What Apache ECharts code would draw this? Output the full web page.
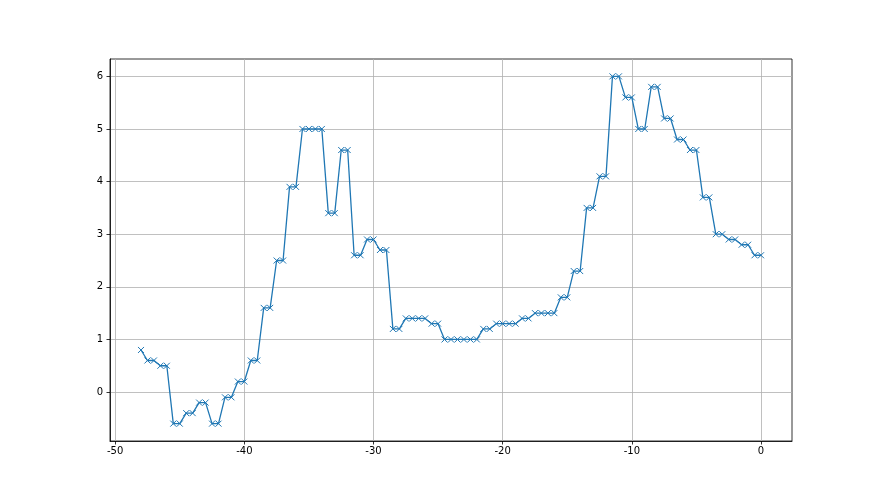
<!DOCTYPE html>
<html>
<head>
<meta charset="utf-8">
<script src="https://cdn.jsdelivr.net/npm/echarts@6/dist/echarts.min.js"></script>
<style>html,body{margin:0;padding:0;background:#fff}#c{width:880px;height:495px}</style>
</head>
<body>
<div id="c"></div>
<script>
var xValues = [-48,
  -47.5,-47, -46.5,-46, -45.5,-45, -44.5,-44, -43.5,-43, -42.5,-42, -41.5,-41, -40.5,-40,
  -39.5,-39, -38.5,-38, -37.5,-37, -36.5,-36, -35.5,-35, -34.5,-34, -33.5,-33, -32.5,-32,
  -31.5,-31, -30.5,-30, -29.5,-29, -28.5,-28, -27.5,-27, -26.5,-26, -25.5,-25, -24.5,-24,
  -23.5,-23, -22.5,-22, -21.5,-21, -20.5,-20, -19.5,-19, -18.5,-18, -17.5,-17, -16.5,-16,
  -15.5,-15, -14.5,-14, -13.5,-13, -12.5,-12, -11.5,-11, -10.5,-10, -9.5,-9, -8.5,-8,
  -7.5,-7, -6.5,-6, -5.5,-5, -4.5,-4, -3.5,-3, -2.5,-2, -1.5,-1, -0.5,0];
var yValues = [0.8,
  0.6,0.6, 0.5,0.5, -0.6,-0.6, -0.4,-0.4, -0.2,-0.2, -0.6,-0.6, -0.1,-0.1, 0.2,0.2,
  0.6,0.6, 1.6,1.6, 2.5,2.5, 3.9,3.9, 5.0,5.0, 5.0,5.0, 3.4,3.4, 4.6,4.6,
  2.6,2.6, 2.9,2.9, 2.7,2.7, 1.2,1.2, 1.4,1.4, 1.4,1.4, 1.3,1.3, 1.0,1.0,
  1.0,1.0, 1.0,1.0, 1.2,1.2, 1.3,1.3, 1.3,1.3, 1.4,1.4, 1.5,1.5, 1.5,1.5,
  1.8,1.8, 2.3,2.3, 3.5,3.5, 4.1,4.1, 6.0,6.0, 5.6,5.6, 5.0,5.0, 5.8,5.8,
  5.2,5.2, 4.8,4.8, 4.6,4.6, 3.7,3.7, 3.0,3.0, 2.9,2.9, 2.8,2.8, 2.6,2.6];
var xTicks = [-50, -40, -30, -20, -10, 0];
var yTicks = [0, 1, 2, 3, 4, 5, 6];

var data = xValues.map(function (x, i) { return [x, yValues[i]]; });
var chart = echarts.init(document.getElementById('c'), null, {renderer: 'canvas'});
var labelStyle = {color: '#000', fontFamily: 'DejaVu Sans', fontSize: 10};
chart.setOption({
  animation: false,
  backgroundColor: '#fff',
  grid: {left: 110, right: 88, top: 59, bottom: 54, show: true, borderColor: '#000', borderWidth: 0.8, backgroundColor: 'transparent'},
  xAxis: {
    type: 'value', min: -50.4, max: 2.4,
    axisLine: {show: true, onZero: false, lineStyle: {color: '#000', width: 0.8}},
    axisTick: {show: true, customValues: xTicks, length: 3.5, lineStyle: {color: '#000', width: 0.8}},
    axisLabel: Object.assign({customValues: xTicks, margin: 5}, labelStyle),
    splitLine: {show: true, customValues: xTicks, lineStyle: {color: '#b0b0b0', width: 0.8}}
  },
  yAxis: {
    type: 'value', min: -0.93, max: 6.33,
    axisLine: {show: true, onZero: false, lineStyle: {color: '#000', width: 0.8}},
    axisTick: {show: true, customValues: yTicks, length: 3.5, lineStyle: {color: '#000', width: 0.8}},
    axisLabel: Object.assign({customValues: yTicks, margin: 7}, labelStyle),
    splitLine: {show: true, customValues: yTicks, lineStyle: {color: '#b0b0b0', width: 0.8}}
  },
  series: [{
    type: 'line',
    data: data,
    lineStyle: {color: '#1f77b4', width: 1.3},
    symbol: 'path://M0,0L10,10M10,0L0,10',
    symbolSize: 6,
    showAllSymbol: true,
    itemStyle: {color: 'none', borderColor: '#1f77b4', borderWidth: 1}
  }]
});
</script>
</body>
</html>
